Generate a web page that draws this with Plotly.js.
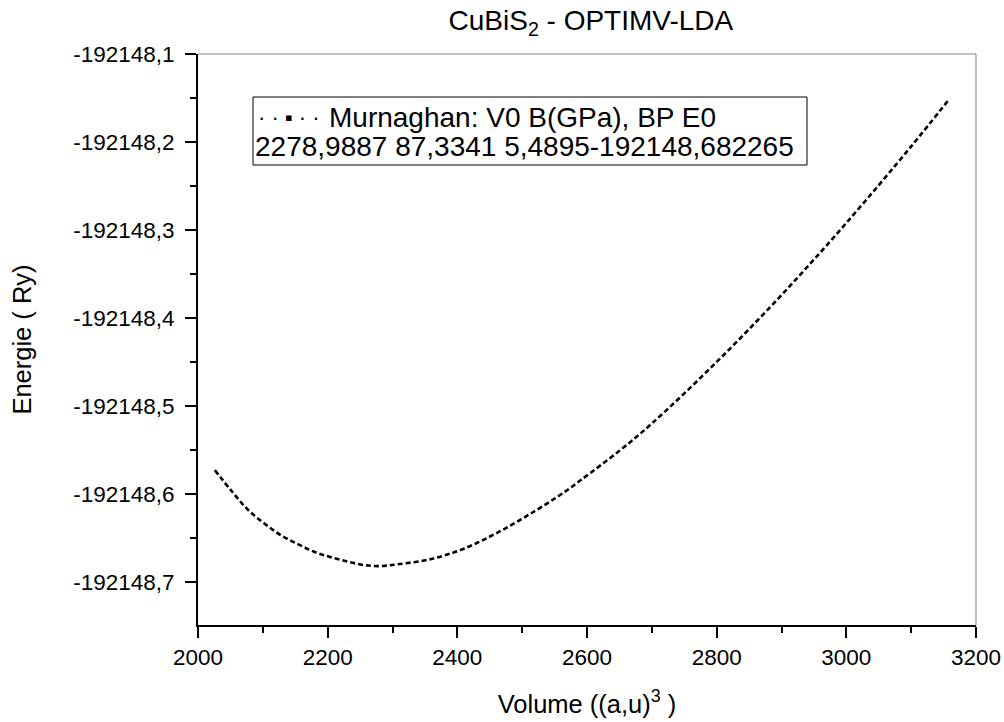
<!DOCTYPE html>
<html>
<head>
<meta charset="utf-8">
<script src="https://cdn.plot.ly/plotly-3.0.1.min.js"></script>
<style>
  html, body { margin: 0; padding: 0; background: #ffffff; }
  #chart { width: 1004px; height: 722px; }
</style>
</head>
<body>
<div id="chart"></div>
<script>
// Volume (a.u.^3)
const volume = [2026, 2051, 2077, 2103, 2128, 2154, 2180, 2205, 2231, 2257, 2282, 2308,
                2360, 2411, 2462, 2514, 2565, 2591, 2650, 2700, 2800, 2900, 3000, 3100, 3158];
// Energie (Ry)
const energie = [-192148.573, -192148.596, -192148.618, -192148.634, -192148.647, -192148.657,
                 -192148.666, -192148.672, -192148.677, -192148.681, -192148.682, -192148.680,
                 -192148.674, -192148.662, -192148.644, -192148.622, -192148.598, -192148.584,
                 -192148.551, -192148.520, -192148.450, -192148.374, -192148.292, -192148.205,
                 -192148.152];

const yTickVals = [-192148.1, -192148.2, -192148.3, -192148.4, -192148.5, -192148.6, -192148.7];
const yTickText = ["-192148,1", "-192148,2", "-192148,3", "-192148,4", "-192148,5", "-192148,6", "-192148,7"];
const yMinorVals = [-192148.15, -192148.25, -192148.35, -192148.45, -192148.55, -192148.65];

const legendSymbol = "· · ▪ · ·";
const legendLine1 = "Murnaghan: V0 B(GPa), BP E0";
const legendLine2 = "2278,9887 87,3341 5,4895-192148,682265";

const FONT = "Liberation Sans, Arial, sans-serif";

// plot area in pixels (for converting legend box placement to paper coords)
const PL = 198, PR = 976, PT = 54, PB = 625;
const px2x = p => (p - PL) / (PR - PL);
const py2y = p => (PB - p) / (PB - PT);

const trace = {
  x: volume,
  y: energie,
  type: "scatter",
  mode: "lines",
  line: { color: "#000000", width: 2.6, dash: "5px,3px", shape: "spline", smoothing: 1 },
  showlegend: false,
  hoverinfo: "x+y"
};

const layout = {
  width: 1004,
  height: 722,
  margin: { l: PL, r: 1004 - PR, t: PT, b: 722 - PB, pad: 0 },
  paper_bgcolor: "#ffffff",
  plot_bgcolor: "#ffffff",
  font: { family: FONT, color: "#000000", size: 22 },
  title: {
    text: "CuBiS<sub>2</sub> - OPTIMV-LDA",
    font: { family: FONT, size: 28, color: "#000000" },
    x: 0.505, xref: "paper", xanchor: "center",
    y: 0.985, yref: "container", yanchor: "top"
  },
  xaxis: {
    range: [2000, 3200],
    tickmode: "linear", tick0: 2000, dtick: 200,
    ticks: "outside", ticklen: 11, tickwidth: 2, tickcolor: "#000000",
    minor: { dtick: 100, ticks: "outside", ticklen: 6, tickwidth: 2, tickcolor: "#000000" },
    showline: true, linecolor: "#000000", linewidth: 2,
    showgrid: false, zeroline: false,
    tickfont: { family: FONT, size: 22.5, color: "#000000" },
    title: { text: "Volume ((a,u)<sup>3</sup> )", font: { family: FONT, size: 25.5, color: "#000000" }, standoff: 26 }
  },
  yaxis: {
    range: [-192148.749, -192148.1],
    tickmode: "array", tickvals: yTickVals, ticktext: yTickText,
    ticks: "outside", ticklen: 11, tickwidth: 2, tickcolor: "#000000",
    ticklabelstandoff: 6,
    minor: { tickmode: "array", tickvals: yMinorVals, ticks: "outside", ticklen: 6, tickwidth: 2, tickcolor: "#000000" },
    showline: true, linecolor: "#000000", linewidth: 2,
    showgrid: false, zeroline: false,
    tickfont: { family: FONT, size: 22.5, color: "#000000" },
    title: { text: "Energie ( Ry)", font: { family: FONT, size: 25.5, color: "#000000" }, standoff: 34 }
  },
  shapes: [
    { type: "line", xref: "paper", yref: "paper", x0: 0, x1: 1, y0: 1, y1: 1, line: { color: "#808080", width: 1 } },
    { type: "line", xref: "paper", yref: "paper", x0: 1, x1: 1, y0: 0, y1: 1, line: { color: "#808080", width: 1 } },
    { type: "rect", xref: "paper", yref: "paper", layer: "above",
      x0: px2x(253), x1: px2x(807), y0: py2y(165), y1: py2y(97),
      fillcolor: "rgba(0,0,0,0)", line: { color: "#000000", width: 1 } }
  ],
  annotations: [
    {
      xref: "paper", yref: "paper", x: px2x(256), y: py2y(117), xanchor: "left", yanchor: "middle",
      showarrow: false, text: legendSymbol,
      font: { family: FONT, size: 22, color: "#000000" }
    },
    {
      xref: "paper", yref: "paper", x: px2x(327), y: py2y(117), xanchor: "left", yanchor: "middle",
      showarrow: false, text: legendLine1,
      font: { family: FONT, size: 28, color: "#000000" }
    },
    {
      xref: "paper", yref: "paper", x: px2x(253), y: py2y(147), xanchor: "left", yanchor: "middle",
      showarrow: false, text: legendLine2,
      font: { family: FONT, size: 28, color: "#000000" }
    }
  ]
};

Plotly.newPlot("chart", [trace], layout, { displayModeBar: false, staticPlot: true });
</script>
</body>
</html>
